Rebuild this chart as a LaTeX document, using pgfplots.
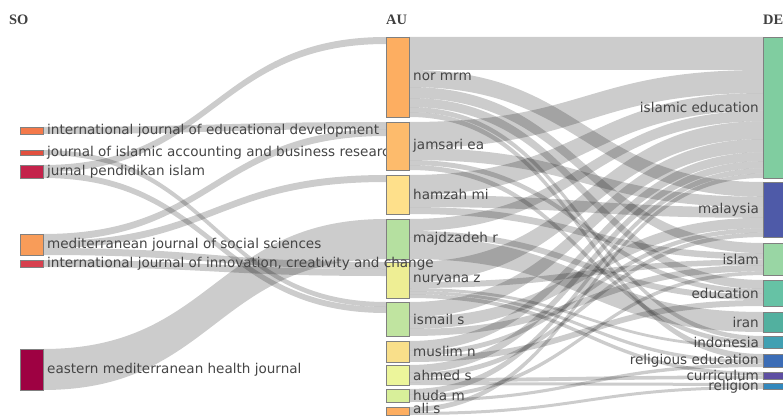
\documentclass[border=0pt]{standalone}
\usepackage{pgfplots}
\pgfplotsset{compat=1.18}
\usepackage{fontspec}
\setmainfont{DejaVu Sans}
\newfontfamily\hfont{Liberation Serif}
\definecolor{lab}{HTML}{454545}
% source nodes
\definecolor{cIJED}{HTML}{F4794A}
\definecolor{cJIABR}{HTML}{E2503F}
\definecolor{cJPI}{HTML}{C4234B}
\definecolor{cMJSS}{HTML}{F89C59}
\definecolor{cIJICC}{HTML}{D7404E}
\definecolor{cEMHJ}{HTML}{9E0142}
% author nodes
\definecolor{cNM}{HTML}{FDAE61}
\definecolor{cJE}{HTML}{FDBB6C}
\definecolor{cHM}{HTML}{FEE08B}
\definecolor{cMR}{HTML}{B5E0A0}
\definecolor{cNZ}{HTML}{EEEE94}
\definecolor{cIS}{HTML}{C0E4A0}
\definecolor{cMN}{HTML}{F9DF8A}
\definecolor{cAS}{HTML}{ECF59B}
\definecolor{cHU}{HTML}{D8EF9A}
\definecolor{cAL}{HTML}{FDAE61}
% keyword nodes
\definecolor{cIE}{HTML}{80CDA0}
\definecolor{cMY}{HTML}{4E5AA8}
\definecolor{cISL}{HTML}{99D6A4}
\definecolor{cED}{HTML}{66C2A5}
\definecolor{cIR}{HTML}{52B09F}
\definecolor{cID}{HTML}{41A0B2}
\definecolor{cRE}{HTML}{3C6DB6}
\definecolor{cCU}{HTML}{5E4FA2}
\definecolor{cRL}{HTML}{3288BD}
% link SO->AU : left top, left bottom, right top, right bottom
\newcommand{\flowA}[4]{\draw[draw=none,fill=black,fill opacity=0.2]
  (axis cs:43,#1) .. controls (axis cs:214.5,#1) and (axis cs:214.5,#3) .. (axis cs:386,#3)
  -- (axis cs:386,#4) .. controls (axis cs:214.5,#4) and (axis cs:214.5,#2) .. (axis cs:43,#2) -- cycle;}
% link AU->DE
\newcommand{\flowB}[4]{\draw[draw=none,fill=black,fill opacity=0.2]
  (axis cs:409,#1) .. controls (axis cs:586,#1) and (axis cs:586,#3) .. (axis cs:763,#3)
  -- (axis cs:763,#4) .. controls (axis cs:586,#4) and (axis cs:586,#2) .. (axis cs:409,#2) -- cycle;}
% node box: x0 x1 y0 y1 colour
\newcommand{\nd}[5]{\addplot[fill=#5,draw=black!50,line width=0.4pt] coordinates {(#1,#3) (#2,#3) (#2,#4) (#1,#4)} -- cycle;}
\newcommand{\lbl}{\fontsize{13.6}{14}\selectfont}
\begin{document}
\begin{tikzpicture}
\begin{axis}[width=783bp,height=416bp,scale only axis,
  xmin=0,xmax=783,ymin=0,ymax=416,y dir=reverse,hide axis,clip=true]
% ---- SO -> AU links
\flowA{127}{134}{122}{129}
\flowA{150}{155}{302}{307}
\flowA{165}{172}{37}{44}
\flowA{172}{178}{307}{313}
\flowA{234}{241}{129}{136}
\flowA{241}{248}{175}{182}
\flowA{248}{255}{262}{269}
\flowA{260}{267}{269}{276}
\flowA{349}{390}{219}{259}
% ---- AU -> DE links
\flowB{37}{70}{37}{70}
\flowB{70}{87}{182}{196.8}
\flowB{87}{98}{243}{253.1}
\flowB{98}{107}{280}{289}
\flowB{107}{112}{336}{340.6}
\flowB{112}{117}{354}{359.9}
\flowB{122}{148}{70}{93}
\flowB{148}{160}{196.8}{207.3}
\flowB{160}{165}{289}{294}
\flowB{165}{170}{340.6}{345.2}
\flowB{175}{195}{93}{110.7}
\flowB{195}{207}{207.3}{217.8}
\flowB{207}{214}{253.1}{259.5}
\flowB{219}{231}{110.7}{121.3}
\flowB{231}{237}{294}{300}
\flowB{237}{259}{312}{332}
\flowB{262}{282}{121.3}{139}
\flowB{282}{288}{259.5}{265}
\flowB{288}{291}{345.2}{348}
\flowB{291}{294}{359.9}{363.5}
\flowB{294}{298}{372}{375.5}
\flowB{302}{317}{139}{152.3}
\flowB{317}{329}{217.8}{228.3}
\flowB{329}{336}{265}{271.4}
\flowB{341}{351}{152.3}{161.2}
\flowB{351}{356}{228.3}{232.7}
\flowB{356}{362}{300}{306}
\flowB{365}{373}{161.2}{168.3}
\flowB{373}{378}{232.7}{237.1}
\flowB{378}{382}{375.5}{379}
\flowB{382}{385}{383}{386}
\flowB{389}{395}{168.3}{173.6}
\flowB{395}{399}{271.4}{275.1}
\flowB{399}{402}{363.5}{367}
\flowB{407}{412}{173.6}{178}
\flowB{412}{415}{386}{389}
% ---- SO nodes
\nd{20}{43}{127}{134}{cIJED}
\nd{20}{43}{150}{155}{cJIABR}
\nd{20}{43}{165}{178}{cJPI}
\nd{20}{43}{234}{255}{cMJSS}
\nd{20}{43}{260}{267}{cIJICC}
\nd{20}{43}{349}{390}{cEMHJ}
% SO labels
\node[anchor=west,inner sep=0pt,text=lab,font=\lbl] at (axis cs:47,131) {international journal of educational development};
\node[anchor=west,inner sep=0pt,text=lab,font=\lbl] at (axis cs:47,152.5) {journal of islamic accounting and business research};
\node[anchor=west,inner sep=0pt,text=lab,font=\lbl] at (axis cs:47,171.5) {jurnal pendidikan islam};
\node[anchor=west,inner sep=0pt,text=lab,font=\lbl] at (axis cs:47,244.5) {mediterranean journal of social sciences};
\node[anchor=west,inner sep=0pt,text=lab,font=\lbl] at (axis cs:47,369.5) {eastern mediterranean health journal};
% ---- AU nodes
\nd{386}{409}{37}{117}{cNM}
\nd{386}{409}{122}{170}{cJE}
\nd{386}{409}{175}{214}{cHM}
\nd{386}{409}{219}{259}{cMR}
\nd{386}{409}{262}{298}{cNZ}
\nd{386}{409}{302}{336}{cIS}
\nd{386}{409}{341}{362}{cMN}
\nd{386}{409}{365}{385}{cAS}
\nd{386}{409}{389}{402}{cHU}
\nd{386}{409}{407}{415}{cAL}
% ---- DE nodes
\nd{763}{786}{37}{178}{cIE}
\nd{763}{786}{182}{237}{cMY}
\nd{763}{786}{243}{275}{cISL}
\nd{763}{786}{280}{306}{cED}
\nd{763}{786}{312}{332}{cIR}
\nd{763}{786}{336}{348}{cID}
\nd{763}{786}{354}{367}{cRE}
\nd{763}{786}{372}{379}{cCU}
\nd{763}{786}{383}{389}{cRL}
\node[anchor=west,inner sep=0pt,text=lab,font=\lbl] at (axis cs:47,263.5) {international journal of innovation, creativity and change};
% AU labels
\node[anchor=west,inner sep=0pt,text=lab,font=\lbl] at (axis cs:413,77) {nor mrm};
\node[anchor=west,inner sep=0pt,text=lab,font=\lbl] at (axis cs:413,146) {jamsari ea};
\node[anchor=west,inner sep=0pt,text=lab,font=\lbl] at (axis cs:413,194.5) {hamzah mi};
\node[anchor=west,inner sep=0pt,text=lab,font=\lbl] at (axis cs:413,239) {majdzadeh r};
\node[anchor=west,inner sep=0pt,text=lab,font=\lbl] at (axis cs:413,280) {nuryana z};
\node[anchor=west,inner sep=0pt,text=lab,font=\lbl] at (axis cs:413,319) {ismail s};
\node[anchor=west,inner sep=0pt,text=lab,font=\lbl] at (axis cs:413,351.5) {muslim n};
\node[anchor=west,inner sep=0pt,text=lab,font=\lbl] at (axis cs:413,375) {ahmed s};
\node[anchor=west,inner sep=0pt,text=lab,font=\lbl] at (axis cs:413,395.5) {huda m};
\node[anchor=west,inner sep=0pt,text=lab,font=\lbl] at (axis cs:413,408.5) {ali s};
% DE labels
\node[anchor=east,inner sep=0pt,text=lab,font=\lbl] at (axis cs:759,107.5) {islamic education};
\node[anchor=east,inner sep=0pt,text=lab,font=\lbl] at (axis cs:759,209.5) {malaysia};
\node[anchor=east,inner sep=0pt,text=lab,font=\lbl] at (axis cs:759,259) {islam};
\node[anchor=east,inner sep=0pt,text=lab,font=\lbl] at (axis cs:759,293) {education};
\node[anchor=east,inner sep=0pt,text=lab,font=\lbl] at (axis cs:759,322) {iran};
\node[anchor=east,inner sep=0pt,text=lab,font=\lbl] at (axis cs:759,342) {indonesia};
\node[anchor=east,inner sep=0pt,text=lab,font=\lbl] at (axis cs:759,360.5) {religious education};
\node[anchor=east,inner sep=0pt,text=lab,font=\lbl] at (axis cs:759,375.5) {curriculum};
\node[anchor=east,inner sep=0pt,text=lab,font=\lbl] at (axis cs:759,387) {religion};
% column headers
\node[anchor=west,inner sep=0pt,text=black!75,font=\hfont\bfseries\fontsize{14.5}{14.5}\selectfont] at (axis cs:9,20) {SO};
\node[anchor=west,inner sep=0pt,text=black!75,font=\hfont\bfseries\fontsize{14.5}{14.5}\selectfont] at (axis cs:386,20) {AU};
\node[anchor=west,inner sep=0pt,text=black!75,font=\hfont\bfseries\fontsize{14.5}{14.5}\selectfont] at (axis cs:763,20) {DE};
\end{axis}
\pgfresetboundingbox
\useasboundingbox (current axis.south west) rectangle (current axis.north east);
\end{tikzpicture}
\end{document}
